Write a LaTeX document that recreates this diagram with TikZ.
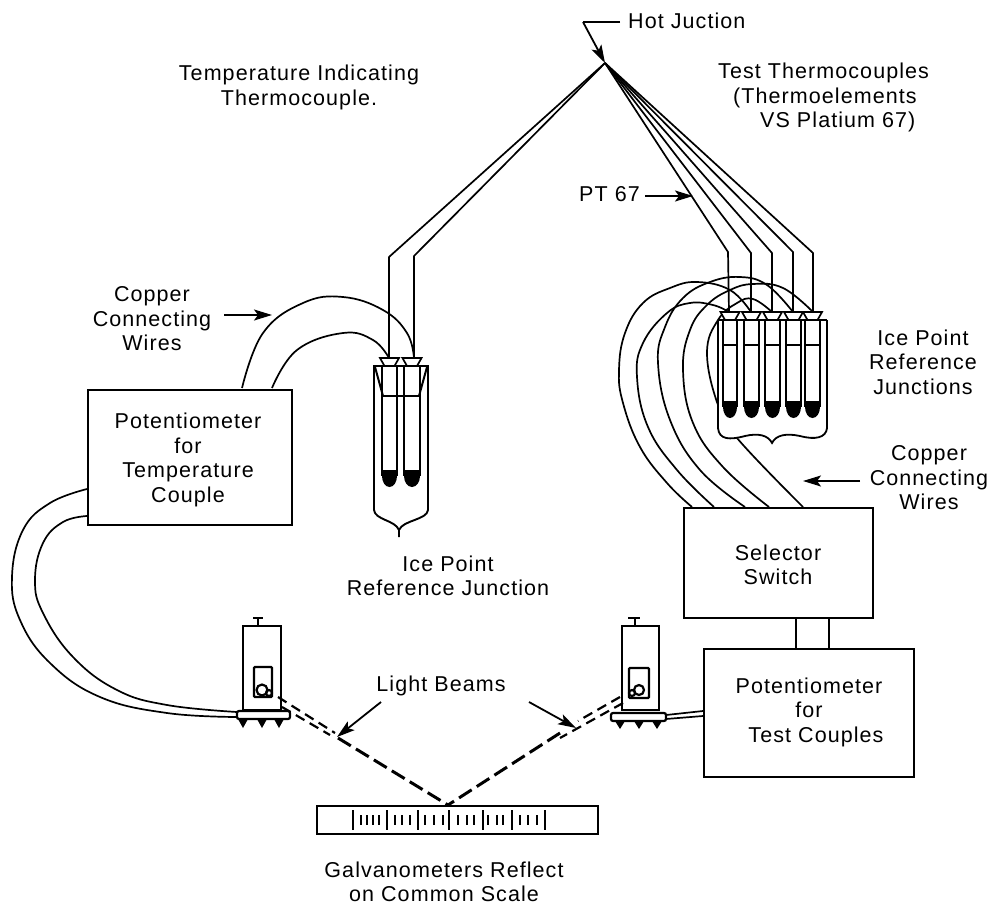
\documentclass[tikz,border=0pt]{standalone}
\usepackage{fontspec}
\setmainfont[LetterSpace=5]{Liberation Sans}
\usetikzlibrary{arrows.meta}
\tikzset{
 wire/.style={line width=1.7pt,line join=round},
 box/.style={draw,line width=1.8pt,inner sep=0pt,anchor=north west},
 lbl/.style={font=\fontsize{21.5}{24.5}\selectfont,align=center,inner sep=0pt},
 ptr/.style={line width=1.8pt,-{Stealth[length=18pt,width=11pt,inset=4pt]}},
 beam/.style={line width=2.2pt,dash pattern=on 10pt off 6pt},
 beamh/.style={line width=3pt,dash pattern=on 15pt off 6pt},
}
\newcommand{\testtube}[5]{% x left, x right, top, line y, black y
 \fill (#1,#5) -- (#1,#5+6) arc[start angle=180,end angle=0,x radius={(#2-#1)/2},y radius=11] -- (#2,#5) -- cycle;
 \draw[line width=2.2pt] (#1,#3) -- (#1,#5+6) (#2,#3) -- (#2,#5+6);
 \draw[line width=2pt] (#1,#4) -- (#2,#4);
 \draw[line width=1.7pt,fill=white] ({(#1+#2)/2-9.5},#3-8) -- ({(#1+#2)/2+9.5},#3-8) -- ({(#1+#2)/2+5},#3) -- ({(#1+#2)/2-5},#3) -- cycle;
}
\begin{document}
\begin{tikzpicture}[x=1pt,y=-1pt]
\useasboundingbox (0,0) rectangle (992,915);
\coordinate (hot) at (605,63);
\coordinate (hook) at (583,22);
\coordinate (capL1) at (389,358);
\coordinate (capL2) at (414,358);
\coordinate (capA) at (729,312);
\coordinate (capB) at (751,312);
\coordinate (capC) at (772,312);
\coordinate (capD) at (793,312);
\coordinate (capE) at (813,312);
% boxes
\node[box,minimum width=204pt,minimum height=135pt] (pt) at (87,389) {};
\node[box,minimum width=189pt,minimum height=110pt] (sw) at (683,507) {};
\node[box,minimum width=210pt,minimum height=128pt] (pc) at (703,648) {};
\node[box,minimum width=281pt,minimum height=28pt] (sc) at (316,805) {};
\draw[line width=1.8pt] (796,617) -- (796,648) (829,617) -- (829,648);
% thermocouple wires
\draw[wire] (hot) -- (389,257) -- (capL1);
\draw[wire] (hot) -- (414,256) -- (capL2);
\draw[wire] (hot) -- (728,252) -- (capA);
\draw[wire] (hot) -- (751,253) -- (capB);
\draw[wire] (hot) -- (772,253) -- (capC);
\draw[wire] (hot) -- (793,252) -- (capD);
\draw[wire] (hot) -- (813,253) -- (capE);
% copper wires, left
\draw[wire] plot[smooth,tension=.7] coordinates {(242,388) (263,333) (303,303) (343,297) (383,310) (407,333) (capL2)};
\draw[wire] plot[smooth,tension=.7] coordinates {(272,388) (297,350) (343,333) (373,340) (capL1)};
% copper wires, right
\draw[wire] plot[smooth,tension=.7] coordinates {(692,507) (667,483) (640,447) (623,403) (619,370) (625,333) (643,303) (670,288) (697,282) (730,290) (capB)};
\draw[wire] plot[smooth,tension=.7] coordinates {(714,507) (677,470) (648,427) (637,377) (643,343) (667,313) (690,303) (713,305) (capA)};
\draw[wire] plot[smooth,tension=.7] coordinates {(745,507) (700,470) (670,420) (658,363) (665,327) (683,298) (710,282) (740,277) (767,285) (capD)};
\draw[wire] plot[smooth,tension=.7] coordinates {(769,507) (723,467) (693,423) (683,370) (690,330) (707,305) (730,290) (753,284) (783,288) (capE)};
\draw[wire] plot[smooth,tension=.7] coordinates {(803,507) (737,438) (718,405) (707,353) (718,320) (737,303) (753,299) (capC)};
% left flask
\fill[white] (374,366) rectangle (428,510);
\testtube{382}{397}{366}{396}{470}
\testtube{404}{420}{366}{396}{470}
\draw[line width=2pt] (373,366) -- (429,366);
\draw[line width=1.9pt,line join=round] (374,366) -- (374,510) .. controls (375,520) and (395,520) .. (399,530) -- (399,537) (399,530) .. controls (403,520) and (427,520) .. (428,510) -- (428,366);
\draw[line width=2pt] (375,367) -- (383,396) (427,367) -- (419,396);
\draw[line width=1.8pt] (383,396) -- (419,396);
% right flask
\fill[white] (718,320) -- (718,428) -- (730,437) -- (772,443) -- (815,437) -- (827,428) -- (827,320) -- cycle;
\testtube{723}{737}{320}{345}{401}
\testtube{744}{759}{320}{345}{401}
\testtube{765}{780}{320}{345}{401}
\testtube{786}{801}{320}{345}{401}
\testtube{805}{820}{320}{345}{401}
\draw[line width=2pt] (718,320) -- (827,320);
\draw[line width=1.8pt] (718,320) -- (718,428) .. controls (719,440) and (730,440) .. (745,436) .. controls (758,433) and (768,435) .. (772,443) .. controls (776,435) and (786,433) .. (800,436) .. controls (815,440) and (826,438) .. (827,428) -- (827,320);
% galvanometers
\draw[line width=1.9pt] (243,626) rectangle (281,710);
\draw[line width=1.9pt] (258,626) -- (258,618) (253,618) -- (263,618);
\draw[line width=2.4pt,rounded corners=1pt] (254,667) rectangle (272,697);
\draw[line width=2.2pt] (262,690) circle (5.5pt);
\draw[line width=2.2pt] (269,693) circle (3pt);
\draw[line width=1.9pt] (622,626) rectangle (659,710);
\draw[line width=1.9pt] (635,626) -- (635,618) (628,618) -- (640,618);
\draw[line width=2.4pt,rounded corners=1pt] (629,668) rectangle (649,698);
\draw[line width=2.2pt] (639,690) circle (5pt);
\draw[line width=2.2pt] (632,693) circle (3pt);
\draw[line width=2.2pt,fill=white,rounded corners=2pt] (237,711) rectangle (290,719);
\draw[line width=2.2pt,fill=white,rounded corners=2pt] (611,713) rectangle (666,721);
\foreach \x in {243,262,279}{\fill (\x-5,719) -- (\x+5,719) -- (\x,728) -- cycle;}
\foreach \x in {620,639,657}{\fill (\x-5,721) -- (\x+5,721) -- (\x,729) -- cycle;}
% galvanometer cables
\draw[wire] plot[smooth,tension=.7] coordinates {(87,489) (50,503) (23,530) (12,577) (20,620) (50,663) (100,697) (167,713) (237,717)};
\draw[wire] plot[smooth,tension=.7] coordinates {(87,516) (63,522) (43,543) (35,580) (43,613) (73,657) (117,690) (167,705) (237,712)};
\draw[wire] (666,715) -- (703,711);
\draw[wire] (666,719) -- (703,716);
% beams
\draw[beam] (278,697) -- (335,733);
\draw[beam] (282,707) -- (330,735);
\draw[beamh] (338,738) -- (448,805);
\draw[beam] (620,697) -- (578,721);
\draw[beam] (623,703) -- (560,738);
\draw[beamh] (560,733) -- (448,805);
% scale ticks
\foreach \u/\h in {130/10,152/5,172/5,190/5,208/5,230/10,255/5,275/5,300/5,325/10,345/5,372/5,400/5,418/10,445/5,470/5,492/5,518/10,535/5,560/5,580/5,605/10,630/5,655/5,680/5,705/10}{
 \draw[line width=1.8pt] ({310+\u/3},820-\h) -- ({310+\u/3},820+\h);
}
% pointers
\draw[line width=1.8pt] (620,22) -- (hook);
\draw[ptr] (hook) -- (hot);
\draw[ptr] (645,196) -- (693,196);
\draw[ptr] (224,315) -- (272,315);
\draw[ptr] (860,481) -- (803,481);
\draw[ptr] (381,702) -- (337,737);
\draw[ptr] (529,702) -- (576,728);
% labels
\node[lbl,anchor=west] (l1) at (628,21) {Hot Juction};
\node[lbl] (l2) at (299,87.5) {Temperature Indicating\\Thermocouple.};
\node[lbl,align=left,anchor=north west] (l3) at (718,63) {Test Thermocouples\\\hspace*{15pt}(Thermoelements\\\hspace*{42pt}VS Platium 67)};
\node[lbl,anchor=east] (l4) at (640,194) {PT 67};
\node[lbl] (l5) at (152,319) {Copper\\Connecting\\Wires};
\node[lbl] (l6) at (188,460) {Potentiometer\\for\\Temperature\\Couple};
\node[lbl] (l7) at (923,362) {Ice Point\\Reference\\Junctions};
\node[lbl] (l8) at (929,478) {Copper\\Connecting\\Wires};
\node[lbl] (l9) at (778,565) {Selector\\Switch};
\node[lbl] (l10) at (448,576) {Ice Point\\Reference Junction};
\node[lbl] (l11) at (441,686) {Light Beams};
\node[lbl] (l12) at (809,712) {Potentiometer\\for\\\hspace*{14pt}Test Couples};
\node[lbl] (l13) at (444,882) {Galvanometers Reflect\\on Common Scale};
\end{tikzpicture}
\end{document}
